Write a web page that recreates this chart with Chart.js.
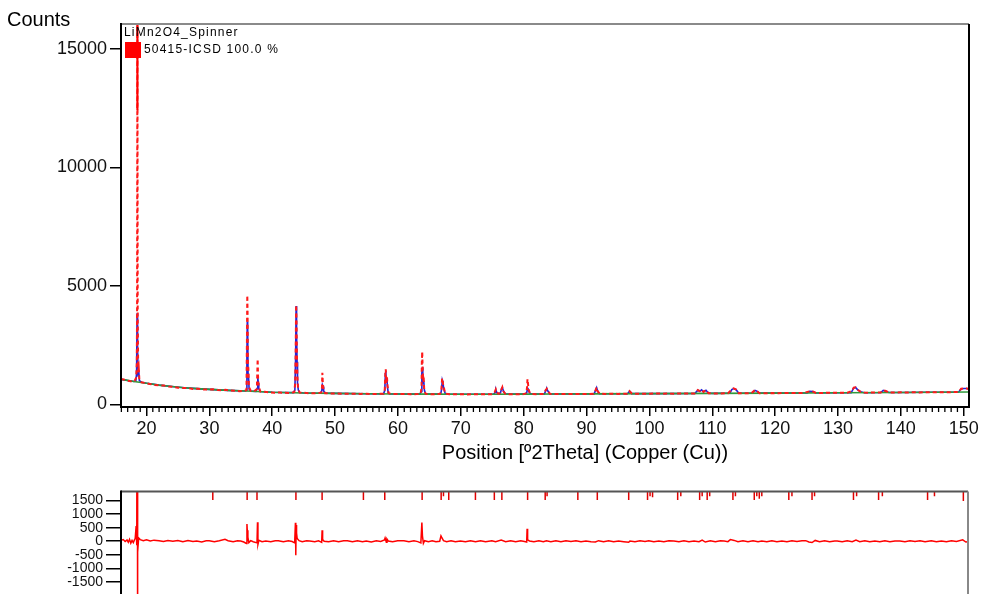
<!DOCTYPE html>
<html><head><meta charset="utf-8">
<script src="https://cdn.jsdelivr.net/npm/chart.js@4/dist/chart.umd.min.js"></script>
<style>
html,body{margin:0;padding:0;background:#fff;overflow:hidden;width:981px;height:594px;}
#top{position:absolute;left:0;top:0;}
#bot{position:absolute;left:0;top:480px;}
</style></head><body>
<canvas id="top" width="981" height="470"></canvas>
<canvas id="bot" width="981" height="140"></canvas>
<script>
// ---- data ----
const xTicks = [20,30,40,50,60,70,80,90,100,110,120,130,140,150];
const yTicksTop = [0,5000,10000,15000];
const yTicksBot = [-1500,-1000,-500,0,500,1000,1500];

const observed = [
[15.94,1060],[16.4,1045],[16.9,1000],[17.3,985],[17.7,950],[18.1,990],[18.35,1120],[18.45,1700],[18.5,4100],[18.55,17500],[18.6,3700],[18.68,1350],[18.77,1500],[18.86,1040],[19.2,930],[19.8,900],[20.5,860],[21.2,820],[22,800],[22.8,790],[23.5,750],[24.3,740],[25,700],[25.8,690],[26.6,680],[27.4,650],[28.2,660],[29,630],[29.8,620],[30.5,640],[31.3,600],[32,590],[32.6,610],[33.3,580],[34,570],[34.8,555],[35.5,560],[35.9,600],[35.97,2600],[36.03,4600],[36.08,3800],[36.13,1700],[36.2,1520],[36.3,720],[36.6,560],[37.1,545],[37.55,640],[37.68,1910],[37.75,1100],[37.85,760],[38.1,540],[38.8,525],[39.6,505],[40.4,490],[41.2,495],[42,485],[42.8,480],[43.5,510],[43.65,900],[43.73,2300],[43.8,4190],[43.86,3600],[43.92,2220],[44.0,1200],[44.1,700],[44.35,500],[45,485],[45.8,470],[46.6,465],[47.3,470],[47.8,500],[47.9,640],[47.97,1330],[48.05,900],[48.15,620],[48.4,470],[49.2,455],[50,460],[51,450],[52,445],[53,450],[54,440],[55,445],[56,435],[57,440],[57.7,445],[57.9,620],[58.0,1360],[58.06,1480],[58.15,900],[58.25,1160],[58.33,800],[58.5,470],[59,440],[60,430],[61,435],[62,428],[63,430],[63.6,450],[63.75,700],[63.8,1800],[63.86,2220],[63.92,1600],[64.0,1000],[64.08,1200],[64.17,640],[64.4,440],[65.2,425],[66,430],[66.7,440],[66.9,600],[67.03,1100],[67.1,1050],[67.2,800],[67.3,720],[67.5,450],[68.2,425],[69,420],[70,425],[71,418],[72,425],[73,420],[74,428],[75,425],[75.4,520],[75.57,633],[75.7,520],[76,440],[76.3,470],[76.5,650],[76.6,717],[76.75,560],[77.1,430],[78,425],[79,428],[80,430],[80.45,470],[80.55,800],[80.6,1060],[80.68,900],[80.78,620],[81.0,470],[81.4,432],[82.2,428],[83.2,440],[83.5,600],[83.68,660],[83.85,560],[84.2,440],[85,432],[86,438],[87,430],[88,436],[89,440],[90,436],[91.1,445],[91.45,600],[91.6,717],[91.75,560],[92.1,445],[93,440],[94,446],[95,440],[96.4,450],[96.8,560],[97.2,455],[98,448],[99,450],[100,445],[101,455],[102,450],[103,452],[104,448],[105,456],[106,452],[107.2,460],[107.7,600],[108.0,560],[108.3,620],[108.6,520],[109.0,600],[109.4,470],[110,462],[111,458],[112.5,465],[113.1,630],[113.4,675],[113.8,620],[114.2,470],[115,465],[116.2,470],[116.8,600],[117.1,560],[117.5,470],[118.5,468],[119.5,472],[120.5,470],[121.5,474],[122.5,480],[123.5,476],[124.5,480],[125.5,550],[126,540],[126.5,482],[127.5,478],[128.5,486],[129.5,484],[130.5,488],[131.5,490],[132.2,560],[132.5,700],[132.8,717],[133.1,620],[133.6,530],[134.2,495],[135,492],[136,500],[136.8,500],[137.2,590],[137.6,560],[138.1,498],[139,500],[140,505],[141,498],[142,506],[143,502],[144,510],[145,506],[146,512],[147,508],[148,514],[149.2,520],[149.6,660],[150.0,675],[150.5,670],[150.84,640]
];

const calculated = [
[15.94,1055],[17,1005],[18,965],[18.3,980],[18.42,1300],[18.5,3850],[18.58,2400],[18.66,1200],[18.76,1450],[18.86,1000],[19.2,935],[20,890],[22,810],[24,750],[26,700],[28,660],[30,630],[33,590],[35.7,560],[35.9,590],[35.97,2000],[36.03,3500],[36.09,3200],[36.15,1300],[36.22,1200],[36.32,640],[36.6,555],[37.4,545],[37.6,680],[37.7,1160],[37.78,900],[37.86,650],[38.1,540],[40,510],[43.4,495],[43.6,600],[43.72,2000],[43.8,4150],[43.87,3000],[43.95,1800],[44.02,900],[44.15,600],[44.35,495],[45,480],[47.7,468],[47.88,580],[47.98,820],[48.08,750],[48.18,560],[48.4,465],[50,460],[55,445],[57.7,440],[57.9,580],[58.0,1300],[58.06,1420],[58.14,950],[58.24,1100],[58.32,760],[58.45,480],[58.7,438],[60,435],[63.5,428],[63.7,540],[63.8,1300],[63.87,1560],[63.95,1200],[64.03,900],[64.1,1000],[64.2,600],[64.4,432],[65,428],[66.8,428],[66.95,650],[67.05,1000],[67.15,900],[67.25,720],[67.35,600],[67.55,430],[70,425],[75.2,425],[75.45,500],[75.57,610],[75.72,500],[76,445],[76.3,480],[76.5,680],[76.62,700],[76.78,560],[77.1,430],[80,430],[80.35,432],[80.5,510],[80.62,680],[80.72,640],[80.85,520],[81.05,450],[81.3,432],[83.3,435],[83.55,610],[83.68,650],[83.85,560],[84.15,440],[85,435],[90,440],[91.2,442],[91.45,600],[91.6,700],[91.75,560],[92.05,445],[96.5,448],[96.85,550],[97.2,452],[100,450],[107.2,458],[107.7,590],[108.0,550],[108.3,610],[108.6,530],[109.0,590],[109.4,465],[110,460],[112.8,464],[113.1,620],[113.4,665],[113.8,615],[114.2,468],[116.3,468],[116.8,590],[117.1,555],[117.5,470],[120,470],[125.1,478],[125.5,545],[126,535],[126.5,480],[130,485],[132.1,486],[132.5,690],[132.8,710],[133.1,620],[133.6,525],[134.2,490],[136.8,496],[137.2,585],[137.6,555],[138.1,497],[140,500],[149.2,518],[149.6,650],[150,670],[150.5,665],[150.84,635]
];

const background = [
[15.94,1060],[17,1010],[18,960],[20,890],[22,810],[24,750],[26,700],[28,660],[30,630],[33,590],[36,560],[40,510],[45,480],[50,460],[55,445],[60,435],[65,428],[70,425],[75,425],[80,430],[85,435],[90,440],[100,450],[110,460],[120,470],[130,485],[140,500],[150.84,520]
];

// reference pattern 50415-ICSD: strongest line (100 %)
const refStrongest = [[18.55,17000],[18.55,12430]];

const difference = [
[15.94,30],[16.3,60],[16.6,-10],[16.9,50],[17.1,-40],[17.3,70],[17.5,-70],[17.7,30],[17.9,-50],[18.1,60],[18.2,100],[18.35,560],[18.45,-150],[18.52,14000],[18.56,-6000],[18.62,-400],[18.75,120],[19,60],[19.5,20],[20,50],[20.6,10],[21.2,40],[22,20],[22.7,-10],[23.4,30],[24.2,0],[25,30],[25.8,-15],[26.6,25],[27.4,-10],[28,10],[28.8,-25],[29.5,15],[30,20],[30.8,-15],[31.6,20],[32.5,70],[33,20],[33.8,-20],[34.5,15],[35,10],[35.5,-30],[35.9,-80],[36.0,630],[36.05,400],[36.15,150],[36.3,-50],[36.6,20],[37.0,-20],[37.6,-60],[37.68,700],[37.75,-120],[37.9,30],[38.4,-20],[39,10],[39.8,-15],[40.5,20],[41,20],[41.8,-20],[42.6,15],[43.2,-10],[43.6,-60],[43.72,680],[43.78,-520],[43.84,600],[43.9,300],[44.0,100],[44.3,20],[44.8,-20],[45.5,15],[46,10],[46.8,-20],[47.4,15],[47.9,-40],[47.97,400],[48.05,60],[48.3,0],[49,-20],[49.8,15],[50.6,-15],[51.4,20],[52,20],[52.8,-20],[53.6,15],[54.4,-15],[55,10],[55.8,-25],[56.6,15],[57.3,-10],[57.9,50],[58.0,120],[58.2,-40],[58.3,80],[58.5,10],[59.2,-20],[60,15],[61,20],[61.8,-20],[62.6,15],[63.2,-15],[63.7,-60],[63.86,690],[63.95,200],[64.1,-80],[64.3,20],[64.9,-15],[65.5,15],[66.1,-20],[66.7,0],[66.9,196],[67.0,150],[67.3,20],[67.8,-15],[68.5,15],[69.2,-20],[70,10],[70.8,-15],[71.6,15],[72.4,-15],[73.2,20],[74,-15],[75,20],[75.6,-20],[76.5,40],[77.2,-15],[78,15],[78.8,-20],[79.6,15],[80.2,-10],[80.55,-30],[80.62,460],[80.7,50],[81,10],[81.7,-20],[82.5,15],[83.2,-15],[83.7,20],[84.4,-15],[85.2,15],[86,-20],[86.8,15],[87.6,-10],[88.4,15],[89.2,-20],[90,10],[90.8,-15],[91.5,-30],[92,20],[92.8,-15],[93.6,15],[94.4,-20],[95.2,10],[96,-15],[96.8,-40],[97,10],[97.8,-15],[98.6,15],[99.4,-10],[100,20],[100.8,-15],[101.6,10],[102.4,-20],[103.2,15],[104,10],[104.8,-20],[105.6,15],[106.4,-15],[107.2,10],[108,-20],[108.5,40],[109,-30],[109.8,15],[110.6,-15],[111.4,15],[112,10],[112.6,-15],[113,60],[113.6,30],[114.2,-20],[115,15],[115.8,-15],[116.6,20],[117.4,-20],[118,10],[118.8,-15],[119.6,15],[120.4,-15],[121.2,10],[122,-20],[122.8,15],[123.6,-10],[124.4,15],[125,20],[125.5,-30],[126,-50],[126.5,30],[127.2,-15],[128,15],[128.8,-15],[129.6,10],[130,10],[130.8,-20],[131.6,15],[132.4,-20],[133,40],[133.6,-15],[134.4,15],[135.2,-15],[136,10],[136.8,-20],[137.6,15],[138.4,-15],[139.2,10],[140,10],[140.8,-15],[141.6,15],[142.4,-10],[143.2,15],[144,-20],[145,20],[145.8,-15],[146.6,10],[147.4,-15],[148.2,15],[149,-10],[150,50],[150.5,-30],[150.84,-20]
];

const refPositions = [30.56,36.03,37.6,43.8,47.97,54.55,57.95,63.9,66.93,67.3,68.14,72.39,75.4,76.6,80.7,83.5,83.8,88.7,91.8,96.8,99.8,100.2,100.6,104.6,105.1,108.1,108.5,109.3,109.7,113.4,113.8,116.8,117.2,117.6,118.0,122.3,122.8,126.0,126.4,132.6,133.1,136.6,137.2,144.4,145.5,150.1];
const refLow = [1520,1520,1520,1520,1520,1520,1520,1520,1520,1660,1520,1520,1520,1520,1520,1520,1660,1520,1520,1520,1520,1660,1620,1520,1660,1520,1660,1520,1660,1520,1660,1520,1660,1560,1660,1520,1660,1520,1660,1520,1660,1520,1660,1520,1660,1480];

// ---- drawing ----
const FONT = '"Liberation Sans", Arial, Helvetica, sans-serif';
const X_MIN = 15.94, X_MAX = 150.84;
const pts = a => a.map(p => ({x: p[0], y: p[1]}));
const plainLabel = v => String(v);

const refTickData = [];
refPositions.forEach((p, i) => {
  refTickData.push({x: p, y: 1900}, {x: p, y: refLow[i]}, {x: p, y: null});
});

const frame = {
  id: 'frame',
  afterDatasetsDraw(c, args, opts) {
    const {left, right, top, bottom} = c.chartArea;
    const ctx = c.ctx;
    ctx.save();
    ctx.lineWidth = 2;
    ctx.strokeStyle = opts.topColor; ctx.beginPath(); ctx.moveTo(left, top); ctx.lineTo(right, top); ctx.stroke();
    ctx.strokeStyle = opts.rightColor; ctx.beginPath(); ctx.moveTo(right, top); ctx.lineTo(right, bottom); ctx.stroke();
    ctx.strokeStyle = '#000';
    ctx.beginPath(); ctx.moveTo(left, top - 1); ctx.lineTo(left, bottom + 1); ctx.stroke();
    if (opts.bottom) { ctx.beginPath(); ctx.moveTo(left - 1, bottom); ctx.lineTo(right + 1, bottom); ctx.stroke(); }
    ctx.restore();
  }
};

const topDecor = {
  id: 'topDecor',
  afterDraw(c) {
    const ctx = c.ctx, xs = c.scales.x, b = c.chartArea.bottom;
    ctx.save();
    // minor ticks
    ctx.strokeStyle = '#000'; ctx.lineWidth = 1.3;
    for (let v = 16; v <= 150; v++) {
      if (v % 10 === 0) continue;
      const p = xs.getPixelForValue(v);
      ctx.beginPath(); ctx.moveTo(p, b); ctx.lineTo(p, b + 5); ctx.stroke();
    }
    // texts
    ctx.fillStyle = '#000';
    ctx.textBaseline = 'middle';
    ctx.textAlign = 'left';
    ctx.font = '20px ' + FONT;
    ctx.fillText('Counts', 7, 20);
    ctx.textAlign = 'center';
    ctx.fillText('Position [º2Theta] (Copper (Cu))', 585, 453);
    // legend
    ctx.textAlign = 'left';
    ctx.font = '12px ' + FONT;
    try { ctx.letterSpacing = '1.2px'; } catch (e) {}
    ctx.fillText('LiMn2O4_Spinner', 124, 33);
    ctx.fillText('50415-ICSD 100.0 %', 144, 50);
    try { ctx.letterSpacing = '0px'; } catch (e) {}
    ctx.fillStyle = '#ff0000';
    ctx.fillRect(125, 42, 16, 16);
    ctx.restore();
  }
};

new Chart(document.getElementById('top'), {
  type: 'line',
  data: {
    datasets: [
      {label: '50415-ICSD 100.0 %', data: pts(refStrongest), borderColor: '#ff0000', borderWidth: 2, pointRadius: 0},
      {label: 'Observed', data: pts(observed), borderColor: '#ff1a1a', borderWidth: 2, borderDash: [4, 3], pointRadius: 0},
      {label: 'Background', data: pts(background), borderColor: '#2f9a3c', borderWidth: 1.6, pointRadius: 0},
      {label: 'Calculated', data: pts(calculated), borderColor: '#2323d8', borderWidth: 1.6, pointRadius: 0}
    ]
  },
  options: {
    responsive: false, animation: false, devicePixelRatio: 1,
    layout: {padding: {top: 24, right: 12, left: 0, bottom: 0}},
    plugins: {legend: {display: false}, tooltip: {enabled: false}, frame: {topColor: '#8a8a8a', rightColor: '#000', bottom: true}},
    scales: {
      x: {
        type: 'linear', min: X_MIN, max: X_MAX,
        afterFit(s) { s.height = 63; },
        afterBuildTicks(s) { s.ticks = xTicks.map(v => ({value: v})); },
        grid: {drawOnChartArea: false, tickLength: 9, color: '#000', lineWidth: 1.5},
        border: {display: false},
        ticks: {font: {family: FONT, size: 18}, color: '#111', padding: 2, maxRotation: 0, autoSkip: false, callback: plainLabel}
      },
      y: {
        min: -114, max: 16060,
        afterFit(s) { s.width = 121; },
        afterBuildTicks(s) { s.ticks = yTicksTop.map(v => ({value: v})); },
        grid: {drawOnChartArea: false, tickLength: 11, color: '#000', lineWidth: 1.5},
        border: {display: false},
        ticks: {font: {family: FONT, size: 18}, color: '#111', padding: 3, callback: plainLabel}
      }
    }
  },
  plugins: [frame, topDecor]
});

new Chart(document.getElementById('bot'), {
  type: 'line',
  data: {
    datasets: [
      {label: 'Reference positions', data: refTickData, borderColor: '#e00000', borderWidth: 1.5, pointRadius: 0, spanGaps: false},
      {label: 'Difference', data: pts(difference), borderColor: '#ff0000', borderWidth: 1.5, pointRadius: 0}
    ]
  },
  options: {
    responsive: false, animation: false, devicePixelRatio: 1,
    layout: {padding: {top: 11, right: 13, left: 0, bottom: 2}},
    plugins: {legend: {display: false}, tooltip: {enabled: false}, frame: {topColor: '#555', rightColor: '#888', bottom: false}},
    scales: {
      x: {type: 'linear', min: X_MIN, max: X_MAX, display: false},
      y: {
        min: -2480, max: 1834,
        afterFit(s) { s.width = 121; },
        afterBuildTicks(s) { s.ticks = yTicksBot.map(v => ({value: v})); },
        grid: {drawOnChartArea: false, tickLength: 15, color: '#000', lineWidth: 1.5},
        border: {display: false},
        ticks: {font: {family: FONT, size: 14}, color: '#111', padding: 3, callback: plainLabel}
      }
    }
  },
  plugins: [frame]
});
</script>
</body></html>
